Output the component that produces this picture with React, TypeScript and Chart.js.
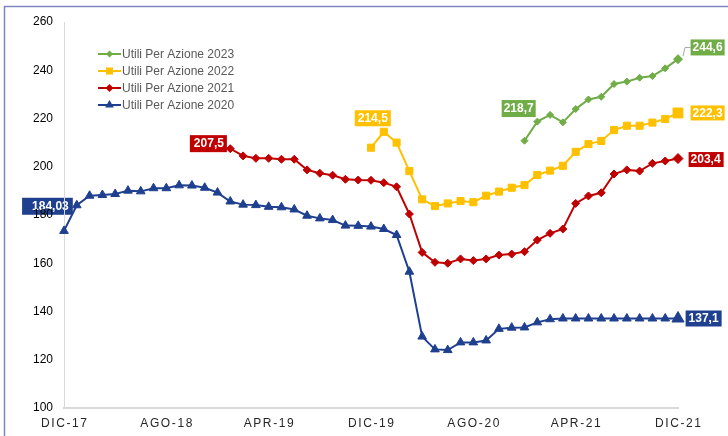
import React, { useEffect, useRef } from 'react';
import { Chart, registerables } from 'chart.js';

Chart.register(...registerables);

const categories = [
  'DIC-17',
  'GEN-18', 'FEB-18', 'MAR-18', 'APR-18', 'MAG-18', 'GIU-18', 'LUG-18', 'AGO-18', 'SET-18', 'OTT-18', 'NOV-18', 'DIC-18',
  'GEN-19', 'FEB-19', 'MAR-19', 'APR-19', 'MAG-19', 'GIU-19', 'LUG-19', 'AGO-19', 'SET-19', 'OTT-19', 'NOV-19', 'DIC-19',
  'GEN-20', 'FEB-20', 'MAR-20', 'APR-20', 'MAG-20', 'GIU-20', 'LUG-20', 'AGO-20', 'SET-20', 'OTT-20', 'NOV-20', 'DIC-20',
  'GEN-21', 'FEB-21', 'MAR-21', 'APR-21', 'MAG-21', 'GIU-21', 'LUG-21', 'AGO-21', 'SET-21', 'OTT-21', 'NOV-21', 'DIC-21',
];

const tickLabels = ['DIC-17', 'AGO-18', 'APR-19', 'DIC-19', 'AGO-20', 'APR-21', 'DIC-21'];

const seriesNames = ['Utili Per Azione 2020', 'Utili Per Azione 2021', 'Utili Per Azione 2022', 'Utili Per Azione 2023'];

const eps2020 = [
  173.4, 184.03, 188.0, 188.3, 188.7, 190.1, 189.8, 191.1, 191.1, 192.3, 192.2, 191.3, 189.3,
  185.6, 184.3, 184.1, 183.4, 183.2, 182.3, 179.7, 178.6, 177.9, 175.6, 175.5, 175.2,
  174.2, 171.7, 156.5, 129.6, 124.3, 124.0, 127.2, 127.2, 128.0, 132.8, 133.3, 133.4,
  135.5, 136.8, 137.1, 137.1, 137.1, 137.1, 137.1, 137.1, 137.1, 137.1, 137.1, 137.1,
];

const eps2021 = [
  null, null, null, null, null, null, null, null, null, null, null, null, null,
  207.5, 204.5, 203.5, 203.5, 203.1, 203.1, 198.7, 197.3, 196.5, 194.8, 194.5, 194.4,
  193.4, 191.7, 180.4, 164.5, 160.4, 160.0, 161.8, 161.1, 161.8, 163.4, 163.8, 164.8,
  169.6, 172.4, 174.2, 184.8, 187.9, 189.2, 197.0, 198.7, 198.2, 201.4, 202.4, 203.4,
];

const eps2022 = [
  null, null, null, null, null, null, null, null, null, null, null, null, null,
  null, null, null, null, null, null, null, null, null, null, null, 207.9,
  214.5, 210.0, 198.2, 186.5, 183.7, 184.8, 185.8, 185.3, 188.0, 189.7, 191.3, 192.4,
  196.6, 198.4, 200.4, 206.2, 209.4, 210.7, 215.2, 217.0, 217.0, 218.3, 219.8, 222.3,
];

const eps2023 = [
  null, null, null, null, null, null, null, null, null, null, null, null, null,
  null, null, null, null, null, null, null, null, null, null, null, null,
  null, null, null, null, null, null, null, null, null, null, null, 210.8,
  218.7, 221.5, 218.4, 223.9, 227.9, 229.0, 234.3, 235.3, 236.9, 237.6, 240.8, 244.6,
];

const seriesData = [eps2020, eps2021, eps2022, eps2023];

const FONT = '"Liberation Sans", Arial, Helvetica, sans-serif';

const styles = [
  { color: '#1f3f8f', pointStyle: 'triangle', radius: 5, endRadius: 7, legendR: 5 },
  { color: '#c00000', pointStyle: 'rectRot', radius: 4, endRadius: 5, legendR: 4 },
  { color: '#ffc000', pointStyle: 'rect', radius: 5, endRadius: 7, legendR: 5 },
  { color: '#70ad47', pointStyle: 'rectRot', radius: 3.5, endRadius: 4.5, legendR: 3.5 },
];

type LabelSpec = {
  series: number;
  index: number;
  mode: 'left' | 'right' | 'above' | 'leftAbove';
  dx: number;
  dy: number;
  padL: number;
  padR: number;
  h: number;
  leader?: boolean;
};

const labelSpecs: LabelSpec[] = [
  { series: 0, index: 1, mode: 'left', dx: -4, dy: 1, padL: 10, padR: 4, h: 17 },
  { series: 1, index: 13, mode: 'left', dx: -3.4, dy: -5, padL: 4, padR: 3, h: 17 },
  { series: 2, index: 25, mode: 'above', dx: -11, dy: -5.5, padL: 3, padR: 3, h: 16 },
  { series: 3, index: 37, mode: 'leftAbove', dx: -1.6, dy: -4.6, padL: 2, padR: 2, h: 17 },
  { series: 3, index: 48, mode: 'right', dx: 12.6, dy: -11.7, padL: 2, padR: 2, h: 16, leader: true },
  { series: 2, index: 48, mode: 'right', dx: 12.6, dy: 0, padL: 2, padR: 2, h: 15 },
  { series: 1, index: 48, mode: 'right', dx: 10.6, dy: 1, padL: 2, padR: 3, h: 15 },
  { series: 0, index: 48, mode: 'right', dx: 7.6, dy: 0, padL: 3, padR: 3, h: 16 },
];

const fmt = (v: number) => String(v).replace('.', ',');

function drawMarker(ctx: CanvasRenderingContext2D, style: string, x: number, y: number, r: number, color: string) {
  ctx.save();
  ctx.fillStyle = color;
  ctx.beginPath();
  if (style === 'triangle') {
    const h = r * 1.5;
    const w = r * Math.sqrt(3) / 2 * 2;
    ctx.moveTo(x, y - r);
    ctx.lineTo(x + w / 2, y - r + h);
    ctx.lineTo(x - w / 2, y - r + h);
  } else if (style === 'rectRot') {
    ctx.moveTo(x, y - r);
    ctx.lineTo(x + r, y);
    ctx.lineTo(x, y + r);
    ctx.lineTo(x - r, y);
  } else {
    const s = r * Math.SQRT1_2;
    ctx.rect(x - s, y - s, 2 * s, 2 * s);
  }
  ctx.closePath();
  ctx.fill();
  ctx.restore();
}

const decorPlugin = {
  id: 'decor',
  beforeDraw(chart: any) {
    const ctx: CanvasRenderingContext2D = chart.ctx;
    // frame
    ctx.save();
    ctx.strokeStyle = '#8184c4';
    ctx.lineWidth = 1.5;
    ctx.beginPath();
    ctx.moveTo(4.5, chart.height);
    ctx.lineTo(4.5, 6.5);
    ctx.lineTo(chart.width, 6.5);
    ctx.stroke();
    ctx.restore();

    // data labels
    const xs = chart.scales.x;
    const ys = chart.scales.y;
    ctx.save();
    ctx.font = `bold 12px ${FONT}`;
    ctx.textBaseline = 'middle';
    ctx.textAlign = 'left';
    for (const spec of labelSpecs) {
      const v = seriesData[spec.series][spec.index] as number;
      const px = xs.getPixelForValue(spec.index);
      const py = ys.getPixelForValue(v);
      const text = fmt(v);
      const tw = ctx.measureText(text).width;
      const w = tw + spec.padL + spec.padR;
      const h = spec.h;
      let bx = 0;
      let by = 0;
      if (spec.mode === 'left') {
        bx = px + spec.dx - w;
        by = py + spec.dy - h / 2;
      } else if (spec.mode === 'right') {
        bx = px + spec.dx;
        by = py + spec.dy - h / 2;
      } else if (spec.mode === 'above') {
        bx = px + spec.dx - w / 2;
        by = py + spec.dy - h;
      } else {
        bx = px + spec.dx - w;
        by = py + spec.dy - h;
      }
      if (spec.leader) {
        ctx.strokeStyle = '#a6a6a6';
        ctx.lineWidth = 1;
        ctx.beginPath();
        ctx.moveTo(px + 5, py - 3);
        ctx.lineTo(px + 7, py + spec.dy);
        ctx.lineTo(bx, py + spec.dy);
        ctx.stroke();
      }
      ctx.fillStyle = styles[spec.series].color;
      ctx.fillRect(bx, by, w, h);
      ctx.fillStyle = '#ffffff';
      ctx.fillText(text, bx + spec.padL, by + h / 2 + 0.5);
    }
    ctx.restore();
  },
  afterDraw(chart: any) {
    const ctx: CanvasRenderingContext2D = chart.ctx;
    const xs = chart.scales.x;
    // x tick labels with letter spacing
    ctx.save();
    ctx.font = `12px ${FONT}`;
    ctx.fillStyle = '#262626';
    ctx.textBaseline = 'middle';
    ctx.textAlign = 'center';
    (ctx as any).letterSpacing = '1.6px';
    for (const t of tickLabels) {
      const i = categories.indexOf(t);
      const x = xs.getPixelForValue(i);
      ctx.fillText(t, x + 0.8, 423.5);
    }
    ctx.restore();

    // legend
    ctx.save();
    ctx.font = `12px ${FONT}`;
    ctx.textBaseline = 'middle';
    ctx.textAlign = 'left';
    const order = [3, 2, 1, 0];
    order.forEach((s, k) => {
      const y = 54 + k * 17;
      const st = styles[s];
      ctx.strokeStyle = st.color;
      ctx.lineWidth = 2;
      ctx.beginPath();
      ctx.moveTo(98, y);
      ctx.lineTo(121, y);
      ctx.stroke();
      drawMarker(ctx, st.pointStyle, 109.5, y, st.legendR, st.color);
      ctx.fillStyle = '#595959';
      ctx.fillText(seriesNames[s], 122, y + 0.5);
    });
    ctx.restore();
  },
};

export default function App() {
  const canvasRef = useRef<HTMLCanvasElement | null>(null);

  useEffect(() => {
    if (!canvasRef.current) return;
    const chart = new Chart(canvasRef.current, {
      type: 'line',
      data: {
        labels: categories,
        datasets: seriesData.map((d, i) => ({
          label: seriesNames[i],
          data: d,
          borderColor: styles[i].color,
          backgroundColor: styles[i].color,
          pointBackgroundColor: styles[i].color,
          pointBorderColor: styles[i].color,
          pointBorderWidth: 1,
          pointStyle: styles[i].pointStyle as any,
          pointRadius: (c: any) => (c.dataIndex === categories.length - 1 ? styles[i].endRadius : styles[i].radius),
          borderWidth: 2,
          tension: 0,
          fill: false,
          spanGaps: false,
          order: 3 - i,
        })),
      },
      options: {
        animation: false,
        responsive: true,
        maintainAspectRatio: false,
        layout: { padding: { top: 22, right: 50, left: 0, bottom: 0 } },
        plugins: {
          legend: { display: false },
          tooltip: { enabled: false },
        },
        scales: {
          x: {
            type: 'category',
            offset: false,
            grid: { display: true, drawOnChartArea: false, drawTicks: false, color: 'transparent' },
            border: { display: true, color: '#d9d9d9', width: 2 },
            ticks: { display: false },
            afterFit: (s: any) => {
              s.height = 28;
            },
          },
          y: {
            min: 100,
            max: 260,
            grid: { display: true, drawOnChartArea: false, drawTicks: false, color: 'transparent' },
            border: { display: true, color: '#d9d9d9', width: 1 },
            ticks: {
              stepSize: 20,
              padding: 11,
              color: '#000000',
              font: { family: FONT, size: 12 },
            },
            afterFit: (s: any) => {
              s.width = 64;
            },
          },
        },
      },
      plugins: [decorPlugin],
    });
    return () => chart.destroy();
  }, []);

  return (
    <div style={{ position: 'fixed', left: 0, top: 0, width: 728, height: 436, background: '#ffffff' }}>
      <canvas ref={canvasRef} />
    </div>
  );
}
